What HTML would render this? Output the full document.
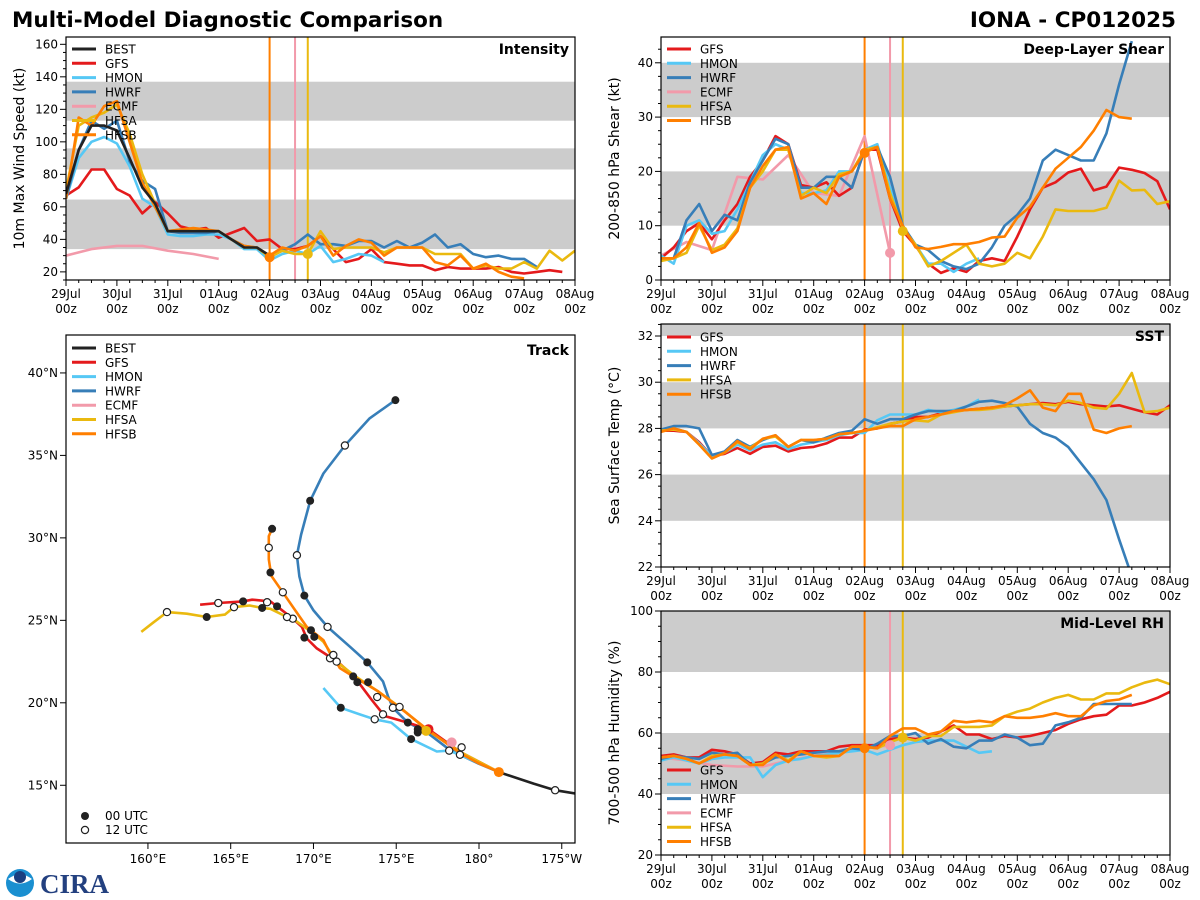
<!DOCTYPE html>
<html><head><meta charset="utf-8"><title>Multi-Model Diagnostic Comparison</title>
<style>
html,body{margin:0;padding:0;background:#fff;}
svg{display:block;font-family:"DejaVu Sans","Liberation Sans",sans-serif;}
</style></head>
<body>
<svg id="chart" width="1200" height="900" viewBox="0 0 1200 900" xmlns="http://www.w3.org/2000/svg">
<text x="12" y="27" font-size="21.5" font-weight="bold" fill="#000">Multi-Model Diagnostic Comparison</text>
<text x="1176" y="27" font-size="21.5" font-weight="bold" fill="#000" text-anchor="end">IONA - CP012025</text>
<g>
<circle cx="20" cy="883" r="14" fill="#1a8fd0"/>
<path d="M8 879 Q20 870 32 879 Q20 888 8 879Z" fill="#fff"/>
<circle cx="20" cy="877" r="6" fill="#1b3f80"/>
<text x="40" y="893" font-size="27" font-weight="bold" fill="#23407f" font-family="Liberation Serif, serif">CIRA</text>
</g>
<g id="layer"></g>
</svg>
<script>
// ---------- DATA ----------
const timeTickLabels = ["29Jul","30Jul","31Jul","01Aug","02Aug","03Aug","04Aug","05Aug","06Aug","07Aug","08Aug"];
const models = ["BEST","GFS","HMON","HWRF","ECMF","HFSA","HFSB"];
const colors = {BEST:"#222222",GFS:"#e41a1c",HMON:"#56c8f5",HWRF:"#377eb8",ECMF:"#f29aaa",HFSA:"#eab90f",HFSB:"#ff7f00"};
// intensity (kt), 6-hourly unless noted
const intBEST = [68,95,110,110,107,90,72,62,45,45,45,45,45,40,35,35,30];
const intGFS = [67,72,83,83,71,67,56,63,56,48,46,47,41,44,47,39,40,34,34,36,42,34,26,28,34,26,25,24,24,21,23,22,22,22,23,20,19,20,21,20];
const intHMON = [65,90,100,103,99,85,65,60,43,42,42,43,43,40,34,34,27,31,33,31,36,26,28,31,30,26];
const intHWRF = [65,95,113,108,113,88,76,71,45,44,44,44,45,40,36,35,29,33,37,43,37,37,36,39,39,35,39,35,38,43,35,37,31,29,30,28,28,23];
const intECMF = [30,34,36,36,33,31,28]; // 12-hourly
const intHFSA = [70,110,115,118,123,105,80,62,45,46,46,45,45,40,35,35,29,33,31,31,45,34,35,35,35,32,35,35,35,31,31,31,22,24,22,22,26,22,33,27,33];
const intHFSB = [65,115,110,122,125,100,75,60,45,46,47,46,45,40,36,35,30,35,33,36,42,30,36,40,38,30,35,35,35,26,24,30,22,25,20,17,16];
// deep-layer shear (kt)
const shrGFS = [4,6,9,10.5,7.5,11,14,19,22,26.5,25,17.5,17,18,15.5,17,24,24,15,9,6.3,3,1.3,2.2,1.5,3.5,4,3.5,8,13,17,18,19.8,20.5,16.5,17.2,20.7,20.3,19.7,18.2,13];
const shrHMON = [4.5,3,10,11,8.5,9,13,18,23,25,24,16,16,16.5,20,20,24,25,17,10,6.5,3,3,1.5,3,4];
const shrHWRF = [4,4,11,14,9,12,11,18,22,26,25,17,17,19,19,17,24,24.5,19,10,6.5,5.5,3.5,2.5,2,3,6,10,12,15,22,24,23,22,22,27,36,44];
const shrECMF = [4.5,7,5.5,19,18.5,23,16,15.5,26.5,5]; // 12-hourly
const shrHFSA = [3.5,4,5,10,5.5,6.5,9.5,17,20,24,24,15.5,17,16,19.5,20,24,24.5,16,9.5,6.5,2.5,3.5,5,6.5,3,2.5,3,5,4,8,13,12.7,12.7,12.7,13.3,18.3,16.5,16.6,14,14.5];
const shrHFSB = [4,4,6,10.5,5,6,9,17,21,24,24.5,15,16,14,19,20,23.5,24.5,15,10,6,5.7,6.1,6.6,6.6,7,7.8,8,11.5,13.5,17,20.5,22.5,24.5,27.5,31.3,30,29.7];
// SST (deg C)
const sstGFS = [27.9,27.9,27.85,27.4,26.8,26.9,27.15,26.9,27.2,27.25,27.0,27.15,27.2,27.35,27.6,27.6,27.95,28.0,28.2,28.3,28.5,28.5,28.65,28.75,28.8,28.85,28.9,28.95,29.0,29.05,29.1,29.05,29.15,29.05,29.0,28.95,29.0,28.85,28.7,28.6,29.0];
const sstHMON = [27.9,28.0,27.85,27.35,26.8,26.95,27.3,27.05,27.3,27.4,27.1,27.3,27.4,27.5,27.7,27.8,27.8,28.35,28.6,28.6,28.6,28.8,28.7,28.8,28.95,29.25];
const sstHWRF = [27.95,28.1,28.1,28.0,26.85,27.0,27.5,27.2,27.5,27.7,27.2,27.5,27.4,27.6,27.8,27.9,28.4,28.2,28.4,28.4,28.6,28.75,28.75,28.75,28.95,29.15,29.2,29.1,28.95,28.2,27.8,27.6,27.2,26.5,25.8,24.9,23.2,21.6];
const sstHFSA = [27.9,27.95,27.85,27.3,26.7,26.95,27.4,27.15,27.55,27.65,27.2,27.5,27.5,27.55,27.75,27.8,27.9,28.05,28.2,28.3,28.35,28.3,28.6,28.7,28.8,28.8,28.85,28.95,29.0,29.05,29.05,29.0,29.2,29.1,28.9,28.85,29.5,30.4,28.7,28.75,28.9];
const sstHFSB = [27.85,28.0,27.85,27.3,26.7,26.95,27.45,27.1,27.55,27.7,27.2,27.5,27.5,27.55,27.75,27.8,27.9,28.0,28.1,28.1,28.4,28.5,28.6,28.75,28.8,28.85,28.9,29.0,29.3,29.65,28.9,28.75,29.5,29.5,27.95,27.8,28.0,28.1];
// mid-level RH (%)
const rhGFS = [52.5,53,52,52,54.5,54,53,50,50.5,53.5,53,54,54,54,55.5,56,56,56,58,58.5,58,58.5,60.5,62.5,59.5,59.5,58,59,58.5,59,60,61,63,64.5,65.5,66,69,69,70,71.5,73.5];
const rhHMON = [51,52,51,50,51.5,52,52,52,45.5,49.5,51,51.5,52.5,53,53.5,54,54.5,53,54.5,56,57,57.5,57.5,57.5,55.5,53.5,54];
const rhHWRF = [51.5,52.5,52,51.5,53.5,53,53.5,49.5,50,52,52.5,53,53.5,54,54,55,54.5,56.5,59,59,60,56.5,58,55.5,55,57.5,57.5,59.5,58.5,56,56.5,62.5,63.5,65,69.5,69.5,69.5,69.5];
const rhECMF = [52,51,49.5,49,49,51,52.5,54,55,56]; // 12-hourly
const rhHFSA = [52,52.5,51.5,50,52.5,53,52.5,49.5,50,53,51,54,52.5,52,52.5,55.5,55.5,55,57,58.5,57.5,59,59,62,62,62,62.5,65.5,67,68,70,71.5,72.5,71,71,73,73,75,76.5,77.5,76];
const rhHFSB = [52,52.5,51.5,50,52,53,52.5,49.5,49.5,53,50.5,54,52.5,52.5,52.5,55.5,55.5,55,59,61.5,61.5,59.5,60.5,64,63.5,64,63.5,65.5,65,65,65.5,66.5,65.5,65.5,69,70.5,71,72.5];
// track (lon degE, lat degN)
const trkBEST = [[185.8,14.5],[184.6,14.7],[183.3,15.1],[181.2,15.8]];
const trkHWRF = [[181.2,15.8],[179.9,16.35],[178.85,16.85],[178.1,17.25],[176.8,18.25],[175.7,18.8],[174.8,19.7],[174.5,20.4],[174.2,21.3],[173.25,22.45],[172.2,23.4],[170.85,24.6],[170.0,25.6],[169.45,26.5],[169.15,27.65],[169.0,28.95],[169.25,30.2],[169.8,32.25],[170.6,33.9],[171.9,35.6],[173.4,37.25],[174.95,38.35]];
const trkHMON = [[181.2,15.8],[179.9,16.4],[178.2,17.1],[177.45,17.05],[175.9,17.8],[174.7,18.8],[173.7,19.0],[172.8,19.3],[171.65,19.7],[170.6,20.9]];
const trkGFS = [[181.2,15.8],[178.9,17.0],[176.95,18.4],[175.7,18.8],[174.3,19.2],[173.5,20.2],[172.9,21.0],[172.4,21.65],[171.5,22.45],[170.2,23.3],[169.6,23.9],[169.3,24.6],[168.75,25.1],[167.8,25.85],[167.4,26.15],[166.3,26.25],[165.75,26.15],[164.25,26.05],[163.15,25.95]];
const trkHFSA = [[181.2,15.8],[178.9,17.0],[176.85,18.35],[175.2,19.75],[173.9,20.7],[172.4,21.7],[171.4,22.5],[170.6,23.7],[170.0,24.2],[168.75,25.1],[168.4,25.2],[167.4,25.7],[166.9,25.75],[166.15,25.9],[165.2,25.8],[164.65,25.35],[163.55,25.2],[162.35,25.4],[161.15,25.5],[160.3,24.85],[159.6,24.3]];
const trkHFSB = [[181.2,15.8],[179.95,16.35],[178.85,16.95],[176.85,18.4],[175.6,19.4],[173.9,20.7],[172.4,21.6],[171.6,22.1],[171.3,22.6],[171.0,23.0],[170.6,23.8],[169.6,24.6],[168.8,25.75],[168.15,26.7],[167.45,27.7],[167.3,28.7],[167.3,29.4],[167.3,30.1],[167.5,30.55]];
const trkDots00 = [[175.7,18.8],[173.25,22.45],[169.45,26.5],[169.8,32.25],[174.95,38.35],[175.9,17.8],[171.65,19.7],[176.3,18.4],[172.65,21.25],[169.45,23.95],[167.8,25.85],[165.75,26.15],[176.3,18.2],[173.3,21.25],[170.05,24.0],[166.9,25.75],[163.55,25.2],[169.85,24.4],[167.4,27.9],[167.5,30.55],[172.4,21.6]];
const trkDots12 = [[184.6,14.7],[178.85,16.85],[174.8,19.7],[170.85,24.6],[169.0,28.95],[171.9,35.6],[178.2,17.1],[173.7,19.0],[174.2,19.3],[171.0,22.7],[168.75,25.1],[167.2,26.1],[164.25,26.05],[175.2,19.75],[171.4,22.5],[168.4,25.2],[165.2,25.8],[161.15,25.5],[173.85,20.35],[171.2,22.9],[168.15,26.7],[167.3,29.4],[178.95,17.3]];
const latTicks = [15,20,25,30,35,40];
const lonTicks = [160,165,170,175,180,185];
const initDays = {HFSB:4, ECMF:4.5, HFSA:4.75};

// ---------- DRAWING ----------
const NS="http://www.w3.org/2000/svg";
const layer=document.getElementById('layer');
function el(tag,attrs,parent){const e=document.createElementNS(NS,tag);for(const k in attrs)e.setAttribute(k,attrs[k]);(parent||layer).appendChild(e);return e;}
let clipId=0;

function timePanel(p){
  const g=el('g',{});
  
  
  const xs=d=>p.x0+(p.x1-p.x0)*d/10;
  const ys=v=>p.y1-(p.y1-p.y0)*(v-p.ymin)/(p.ymax-p.ymin);
  const id='c'+(clipId++);
  const cp=el('clipPath',{id:id},g);el('rect',{x:p.x0,y:p.y0,width:p.x1-p.x0,height:p.y1-p.y0},cp);
  const pg=el('g',{'clip-path':'url(#'+id+')'},g);
  p.bands.forEach(b=>{const r=el('rect',{x:p.x0,y:ys(b[1]),width:p.x1-p.x0,height:ys(b[0])-ys(b[1]),fill:'#cccccc'},pg);
    
    });
  p.vlines.forEach(m=>{const l=el('line',{x1:xs(initDays[m]),x2:xs(initDays[m]),y1:p.y0,y2:p.y1,stroke:colors[m],'stroke-width':2},pg);
    
    });
  p.series.forEach(s=>{
    const step=s.step||0.25;
    const pts=s.data.map((v,i)=>xs(i*step).toFixed(1)+','+ys(v).toFixed(1)).join(' ');
    const pl=el('polyline',{points:pts,fill:'none',stroke:colors[s.m],'stroke-width':2.6,'stroke-linejoin':'round'},pg);
    
    
  });
  (p.dots||[]).forEach(d=>{const c=el('circle',{cx:xs(d[1]),cy:ys(d[2]),r:5,fill:colors[d[0]]},pg);
    
    });
  el('rect',{x:p.x0,y:p.y0,width:p.x1-p.x0,height:p.y1-p.y0,fill:'none',stroke:'#000','stroke-width':1.2},g);
  for(let i=0;i<=40;i++){const x=xs(i/4);const maj=i%4===0;
    el('line',{x1:x,x2:x,y1:p.y1,y2:p.y1+(maj?6:3),stroke:'#000','stroke-width':1},g);}
  timeTickLabels.forEach((t,i)=>{const x=xs(i);
    const a=el('text',{x:x,y:p.y1+18,'font-size':12,'text-anchor':'middle'},g);a.textContent=t;
    
    
    const b=el('text',{x:x,y:p.y1+33,'font-size':12,'text-anchor':'middle'},g);b.textContent='00z';
    
    });
  for(let v=p.yMinorStart;v<=p.ymax;v+=p.minor){const y=ys(v);
    const maj=Math.abs(((v-p.ticks[0])/p.major)-Math.round((v-p.ticks[0])/p.major))<1e-6;
    el('line',{x1:p.x0,x2:p.x0-(maj?6:3),y1:y,y2:y,stroke:'#000','stroke-width':1},g);}
  p.ticks.forEach(v=>{const t=el('text',{x:p.x0-8,y:ys(v)+4,'font-size':12,'text-anchor':'end'},g);t.textContent=v;
    
    });
  const yl=el('text',{x:0,y:0,'font-size':14,'text-anchor':'middle',transform:`translate(${p.x0-42},${(p.y0+p.y1)/2}) rotate(-90)`},g);
  yl.textContent=p.ylabel;
  
  
  const tt=el('text',{x:p.x1-6,y:p.y0+17,'font-size':14,'font-weight':'bold','text-anchor':'end'},g);tt.textContent=p.title;
  
  
  legend(g,p.legend,p.x0+6,p.legendY);
}
function legend(g,list,x,y){
  const lg=el('g',{},g);
  
  
  list.forEach((m,i)=>{const yy=y+i*14.3;
    el('line',{x1:x,x2:x+24,y1:yy,y2:yy,stroke:colors[m],'stroke-width':3},lg);
    const t=el('text',{x:x+33,y:yy+4.5,'font-size':12},lg);t.textContent=m;
    
    });
}

timePanel({name:'intensity-panel',x0:66,x1:575,y0:37,y1:280,ymin:15,ymax:164.5,ticks:[20,40,60,80,100,120,140,160],major:20,minor:5,yMinorStart:15,
  bands:[[34,64.5],[83,96],[113,137]],vlines:['HFSB','ECMF','HFSA'],title:'Intensity',ylabel:'10m Max Wind Speed (kt)',
  series:[{m:'ECMF',data:intECMF,step:0.5},{m:'GFS',data:intGFS},{m:'HMON',data:intHMON},{m:'HWRF',data:intHWRF},{m:'HFSA',data:intHFSA},{m:'HFSB',data:intHFSB},{m:'BEST',data:intBEST}],
  dots:[['HFSB',4,29],['HFSA',4.75,31]],legend:['BEST','GFS','HMON','HWRF','ECMF','HFSA','HFSB'],legendY:49});
timePanel({name:'shear-panel',x0:661,x1:1170,y0:37,y1:280,ymin:0,ymax:44.75,ticks:[0,10,20,30,40],major:10,minor:2.5,yMinorStart:0,
  bands:[[10,20],[30,40]],vlines:['HFSB','ECMF','HFSA'],title:'Deep-Layer Shear',ylabel:'200-850 hPa Shear (kt)',
  series:[{m:'ECMF',data:shrECMF,step:0.5},{m:'GFS',data:shrGFS},{m:'HMON',data:shrHMON},{m:'HWRF',data:shrHWRF},{m:'HFSA',data:shrHFSA},{m:'HFSB',data:shrHFSB}],
  dots:[['HFSB',4,23.4],['ECMF',4.5,5],['HFSA',4.75,9]],legend:['GFS','HMON','HWRF','ECMF','HFSA','HFSB'],legendY:49});
timePanel({name:'sst-panel',x0:661,x1:1170,y0:324,y1:567,ymin:22,ymax:32.52,ticks:[22,24,26,28,30,32],major:2,minor:0.5,yMinorStart:22,
  bands:[[24,26],[28,30],[32,33]],vlines:['HFSB','HFSA'],title:'SST',ylabel:'Sea Surface Temp (°C)',
  series:[{m:'GFS',data:sstGFS},{m:'HMON',data:sstHMON},{m:'HWRF',data:sstHWRF},{m:'HFSA',data:sstHFSA},{m:'HFSB',data:sstHFSB}],
  dots:[],legend:['GFS','HMON','HWRF','HFSA','HFSB'],legendY:337});
timePanel({name:'rh-panel',x0:661,x1:1170,y0:611,y1:855,ymin:20,ymax:100,ticks:[20,40,60,80,100],major:20,minor:5,yMinorStart:20,
  bands:[[40,60],[80,100]],vlines:['HFSB','ECMF','HFSA'],title:'Mid-Level RH',ylabel:'700-500 hPa Humidity (%)',
  series:[{m:'ECMF',data:rhECMF,step:0.5},{m:'GFS',data:rhGFS},{m:'HMON',data:rhHMON},{m:'HWRF',data:rhHWRF},{m:'HFSA',data:rhHFSA},{m:'HFSB',data:rhHFSB}],
  dots:[['HFSB',4,55],['ECMF',4.5,56],['HFSA',4.75,58.5]],legend:['GFS','HMON','HWRF','ECMF','HFSA','HFSB'],legendY:770});

(function(){
  const x0=66,x1=575,y0=335,y1=843,lon0=155.05,lon1=185.8,lat0=11.5,lat1=42.3;
  const xs=l=>x0+(x1-x0)*(l-lon0)/(lon1-lon0);
  const ys=l=>y1-(y1-y0)*(l-lat0)/(lat1-lat0);
  const g=el('g',{});
  
  
  const id='c'+(clipId++);
  const cp=el('clipPath',{id:id},g);el('rect',{x:x0,y:y0,width:x1-x0,height:y1-y0},cp);
  const pg=el('g',{'clip-path':'url(#'+id+')'},g);
  [['HWRF',trkHWRF],['HMON',trkHMON],['GFS',trkGFS],['HFSA',trkHFSA],['HFSB',trkHFSB],['BEST',trkBEST]].forEach(([m,d])=>{
    const pl=el('polyline',{points:d.map(p=>xs(p[0]).toFixed(1)+','+ys(p[1]).toFixed(1)).join(' '),fill:'none',stroke:colors[m],'stroke-width':2.6,'stroke-linejoin':'round'},pg);
    
    
  });
  [['GFS',176.95,18.4],['ECMF',178.35,17.6],['HFSA',176.8,18.3],['HFSB',181.2,15.8]].forEach(([m,lo,la])=>{
    const c=el('circle',{cx:xs(lo),cy:ys(la),r:5,fill:colors[m]},pg);
    
    });
  trkDots00.forEach(p=>{const c=el('circle',{cx:xs(p[0]),cy:ys(p[1]),r:4,fill:'#222'},pg);
    
    });
  trkDots12.forEach(p=>{const c=el('circle',{cx:xs(p[0]),cy:ys(p[1]),r:3.6,fill:'#fff',stroke:'#222','stroke-width':1.2},pg);
    
    });
  el('rect',{x:x0,y:y0,width:x1-x0,height:y1-y0,fill:'none',stroke:'#000','stroke-width':1.2},g);
  latTicks.forEach(v=>{const y=ys(v);el('line',{x1:x0,x2:x0-6,y1:y,y2:y,stroke:'#000'},g);
    const t=el('text',{x:x0-8,y:y+4,'font-size':12,'text-anchor':'end'},g);t.textContent=v+'°N';
    
    });
  lonTicks.forEach(v=>{const x=xs(v);el('line',{x1:x,x2:x,y1:y1,y2:y1+6,stroke:'#000'},g);
    const t=el('text',{x:x,y:y1+20,'font-size':12,'text-anchor':'middle'},g);
    t.textContent=v<180?v+'°E':(v===180?'180°':(360-v)+'°W');
    
    });
  const tt=el('text',{x:x1-6,y:y0+20,'font-size':14,'font-weight':'bold','text-anchor':'end'},g);tt.textContent='Track';
  
  
  legend(g,models,x0+6,y0+13);
  el('circle',{cx:85,cy:816,r:4,fill:'#222'},g);
  const t1=el('text',{x:105,y:820,'font-size':12},g);t1.textContent='00 UTC';
  
  
  el('circle',{cx:85,cy:830,r:3.6,fill:'#fff',stroke:'#222','stroke-width':1.2},g);
  const t2=el('text',{x:105,y:834,'font-size':12},g);t2.textContent='12 UTC';
  
  
})();
</script>
</body></html>
